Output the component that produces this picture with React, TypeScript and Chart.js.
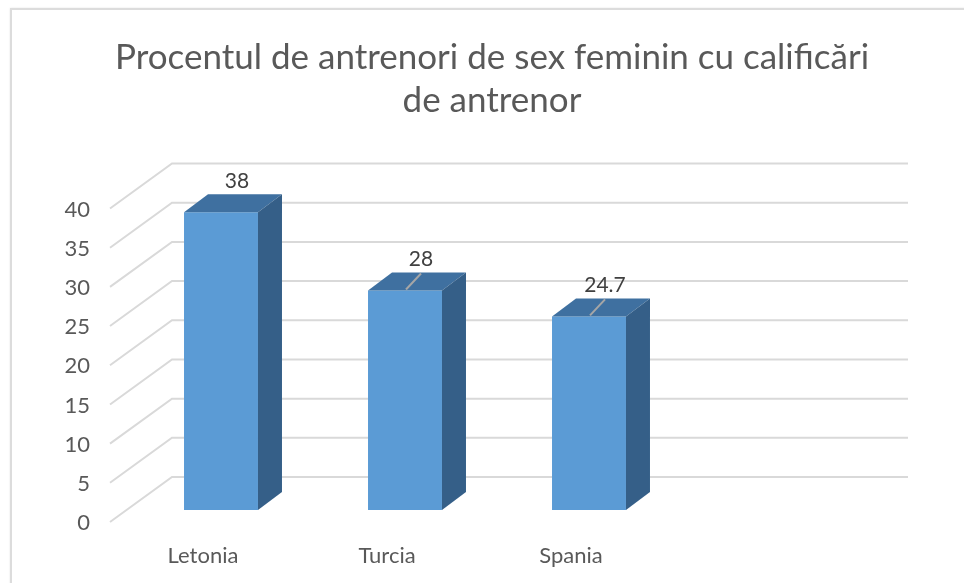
import React, { useEffect, useRef } from "react";
import { Chart, registerables } from "chart.js";

Chart.register(...registerables);

// ---- data ----
const titleLines = ["Procentul de antrenori de sex feminin cu calificări", "de antrenor"];
const categories = ["Letonia", "Turcia", "Spania", ""];
const values: (number | null)[] = [38, 28, 24.7, null];
const valueLabels = ["38", "28", "24.7", ""];
const showLeader = [false, true, true, false];
const yMin = 0;
const yMax = 40;
const yStep = 5;

// ---- style ----
const FONT = "Lato, 'Open Sans', sans-serif";
const FRONT = "#5B9BD5";
const TOP = "#3F70A0";
const SIDE = "#355F88";
const GRID = "#d9d9d9";
const GRID_FRONT = [-19, 12];
const GRID_BACK = [43, -33];
const BAR_DEPTH = [24, -18];

const threeD = {
  id: "threeD",
  beforeDatasetsDraw(chart: any) {
    const { ctx, chartArea, scales } = chart;
    const y = scales.y;
    ctx.save();
    ctx.strokeStyle = GRID;
    ctx.lineWidth = 2;
    y.ticks.forEach((t: any) => {
      const py = y.getPixelForValue(t.value);
      ctx.beginPath();
      ctx.moveTo(chartArea.left + GRID_FRONT[0], py + GRID_FRONT[1]);
      ctx.lineTo(chartArea.left + GRID_BACK[0], py + GRID_BACK[1]);
      ctx.lineTo(chartArea.right + GRID_BACK[0], py + GRID_BACK[1]);
      ctx.stroke();
    });
    ctx.restore();
  },
  afterDatasetsDraw(chart: any) {
    const { ctx } = chart;
    const meta = chart.getDatasetMeta(0);
    const [dx, dy] = BAR_DEPTH;
    ctx.save();
    meta.data.forEach((bar: any, i: number) => {
      if (values[i] == null) return;
      const { x, y, base, width } = bar.getProps(["x", "y", "base", "width"], true);
      const l = x - width / 2;
      const r = x + width / 2;
      // top face
      ctx.fillStyle = TOP;
      ctx.beginPath();
      ctx.moveTo(l, y);
      ctx.lineTo(r, y);
      ctx.lineTo(r + dx, y + dy);
      ctx.lineTo(l + dx, y + dy);
      ctx.closePath();
      ctx.fill();
      // side face
      ctx.fillStyle = SIDE;
      ctx.beginPath();
      ctx.moveTo(r, y);
      ctx.lineTo(r + dx, y + dy);
      ctx.lineTo(r + dx, base + dy);
      ctx.lineTo(r, base);
      ctx.closePath();
      ctx.fill();
      // leader line
      if (showLeader[i]) {
        ctx.strokeStyle = "#a6a6a6";
        ctx.lineWidth = 2;
        ctx.beginPath();
        ctx.moveTo(x + 1, y - 1);
        ctx.lineTo(x + 16, y - 17);
        ctx.stroke();
      }
      // value label
      ctx.fillStyle = "#404040";
      ctx.font = `21px ${FONT}`;
      ctx.textAlign = "center";
      ctx.textBaseline = "middle";
      ctx.fillText(valueLabels[i], x + 16, y - 31);
    });
    ctx.restore();
  },
};

export default function App() {
  const ref = useRef<HTMLCanvasElement>(null);
  useEffect(() => {
    if (!ref.current) return;
    const chart = new Chart(ref.current, {
      type: "bar",
      data: {
        labels: categories,
        datasets: [
          {
            data: values as any,
            backgroundColor: FRONT,
            borderWidth: 0,
            categoryPercentage: 1,
            barPercentage: 0.402,
            yAxisID: "y",
          },
        ],
      },
      options: {
        animation: false,
        responsive: false,
        devicePixelRatio: 1,
        layout: { padding: { left: 20, right: 0, top: 0, bottom: 0 } },
        plugins: {
          legend: { display: false },
          tooltip: { enabled: false },
          title: {
            display: true,
            text: titleLines,
            color: "#595959",
            font: { family: FONT, size: 35, weight: "normal", lineHeight: 1.23 },
            padding: { top: 36, bottom: 74.4 },
          },
        },
        scales: {
          x: {
            grid: { display: false },
            border: { display: false },
            ticks: {
              color: "#595959",
              font: { family: FONT, size: 22 },
              labelOffset: -18,
              padding: 25,
              maxRotation: 0,
            },
            afterFit(scale: any) {
              scale.height = 73;
            },
          },
          y: {
            min: yMin,
            max: yMax,
            grid: { display: false },
            border: { display: false },
            ticks: {
              stepSize: yStep,
              color: "#595959",
              font: { family: FONT, size: 22 },
              labelOffset: 13,
              padding: 31,
            },
            afterFit(scale: any) {
              scale.width = 109;
            },
          },
          yRight: {
            position: "right",
            display: true,
            grid: { display: false },
            border: { display: false },
            ticks: { display: false },
            afterFit(scale: any) {
              scale.width = 99;
            },
          },
        },
      },
      plugins: [threeD],
    });
    return () => chart.destroy();
  }, []);
  return (
    <div style={{ position: "fixed", left: 0, top: 0, width: 964, height: 583, overflow: "hidden", background: "#fff" }}>
      <div
        style={{
          position: "absolute",
          left: 10,
          top: 8,
          width: 980,
          height: 600,
          border: "2px solid #dcdcdc",
          boxShadow: "0 0 2px #e6e6e6",
        }}
      />
      <canvas ref={ref} width={964} height={583} style={{ position: "absolute", left: 0, top: 0 }} />
    </div>
  );
}
